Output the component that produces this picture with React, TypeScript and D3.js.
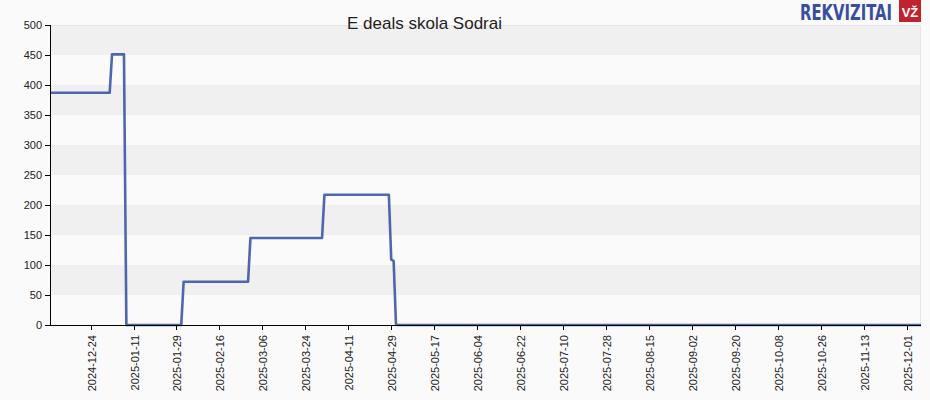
import React from "react";
import * as d3 from "d3";

const title = "E deals skola Sodrai";
const pointDates = [
  "2024-12-07", "2025-01-01", "2025-01-02", "2025-01-07", "2025-01-08",
  "2025-01-31", "2025-02-01", "2025-02-28", "2025-03-01", "2025-03-31",
  "2025-04-01", "2025-04-28", "2025-04-29", "2025-04-30", "2025-05-01",
  "2025-12-07",
];
const pointValues = [387, 387, 451, 451, 0, 0, 72, 72, 145, 145, 217, 217, 109, 107, 0, 0];
const xTickLabels = [
  "2024-12-24", "2025-01-11", "2025-01-29", "2025-02-16", "2025-03-06", "2025-03-24",
  "2025-04-11", "2025-04-29", "2025-05-17", "2025-06-04", "2025-06-22", "2025-07-10",
  "2025-07-28", "2025-08-15", "2025-09-02", "2025-09-20", "2025-10-08", "2025-10-26",
  "2025-11-13", "2025-12-01",
];
const yTicks = [0, 50, 100, 150, 200, 250, 300, 350, 400, 450, 500];
const domainDates = ["2024-12-07", "2025-12-07"];

const W = 930, H = 400;
const L = 50, R = 921, T = 25, B = 325;

export default function App() {
  const parse = d3.utcParse("%Y-%m-%d");
  const x = d3.scaleUtc().domain(domainDates.map((d) => parse(d)!)).range([L, R]);
  const y = d3.scaleLinear().domain([0, 500]).range([B, T]);
  const data = pointDates.map((d, i) => ({ date: parse(d)!, v: pointValues[i] }));
  const line = d3.line<{ date: Date; v: number }>().x((d) => x(d.date)).y((d) => y(d.v));
  const font = "Arial, 'Liberation Sans', sans-serif";

  return (
    <div style={{ position: "fixed", left: 0, top: 0 }}>
      <svg width={W} height={H} style={{ display: "block", background: "#fafafa" }}>
        <rect x={0} y={0} width={W} height={H} fill="#fafafa" />
        {yTicks.slice(0, -1).map((t, i) =>
          i % 2 === 1 ? (
            <rect key={t} x={L} y={y(t + 50)} width={R - L} height={y(t) - y(t + 50)} fill="#f0f0f0" />
          ) : null
        )}
        <line x1={L} x2={R} y1={T + 0.5} y2={T + 0.5} stroke="#e6e6e6" />
        <line x1={R - 0.5} x2={R - 0.5} y1={T} y2={B} stroke="#e6e6e6" />
        <path d={line(data) ?? ""} fill="none" stroke="#3d56a6" strokeWidth={2.6} strokeLinejoin="round" opacity={0.9} />
        <line x1={L + 0.5} x2={L + 0.5} y1={T} y2={B} stroke="#000" />
        <line x1={L} x2={R} y1={B + 0.5} y2={B + 0.5} stroke="#000" />
        {yTicks.map((t) => (
          <g key={t}>
            <line x1={L - 5} x2={L} y1={Math.round(y(t)) + 0.5} y2={Math.round(y(t)) + 0.5} stroke="#000" />
            <text x={L - 8} y={y(t)} dy="0.35em" textAnchor="end" fontFamily={font} fontSize={11} fill="#222">
              {t}
            </text>
          </g>
        ))}
        {xTickLabels.map((s) => {
          const xp = Math.round(x(parse(s)!)) + 0.5;
          return (
            <g key={s}>
              <line x1={xp} x2={xp} y1={B} y2={B + 5} stroke="#000" />
              <text
                transform={`translate(${xp + 4},${B + 10}) rotate(-90)`}
                textAnchor="end"
                fontFamily={font}
                fontSize={11}
                fill="#222"
              >
                {s}
              </text>
            </g>
          );
        })}
        <text x={424.5} y={29} textAnchor="middle" fontFamily={font} fontSize={17} fill="#222">
          {title}
        </text>
        <text
          x={800}
          y={20}
          fontFamily="'DejaVu Sans Condensed', 'Liberation Sans Narrow', Arial, sans-serif"
          fontWeight="bold"
          fontSize={22}
          fill="#3a4ea0"
          textLength={92}
          lengthAdjust="spacingAndGlyphs"
        >
          REKVIZITAI
        </text>
        <rect x={899} y={0} width={22} height={22} fill="#c0222e" />
        <text x={910} y={17} textAnchor="middle" fontFamily={font} fontWeight="bold" fontSize={13} fill="#fff">
          VŽ
        </text>
      </svg>
    </div>
  );
}
